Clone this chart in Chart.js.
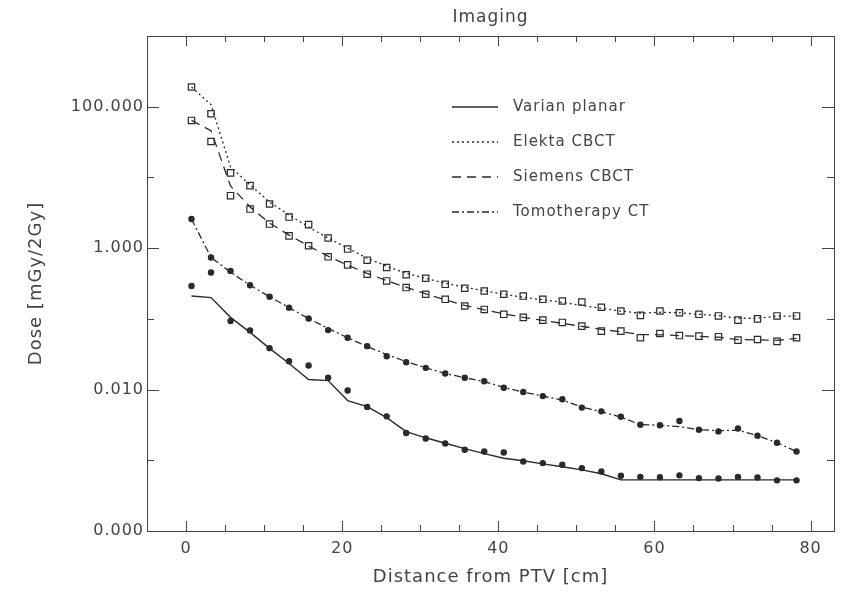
<!DOCTYPE html>
<html>
<head>
<meta charset="utf-8">
<title>Imaging</title>
<script src="https://cdn.jsdelivr.net/npm/chart.js@4.4.1/dist/chart.umd.min.js"></script>
<style>
  html, body { margin: 0; padding: 0; background: #fff; }
  canvas { display: block; }
</style>
</head>
<body>
<canvas id="chart" width="853" height="593"></canvas>
<script>
// distance from PTV [cm], shared by all series
const distances = [0.7, 3.2, 5.7, 8.2, 10.7, 13.2, 15.7, 18.2, 20.7, 23.2, 25.7, 28.2, 30.7, 33.2, 35.7, 38.2,
  40.7, 43.2, 45.7, 48.2, 50.7, 53.2, 55.7, 58.2, 60.7, 63.2, 65.7, 68.2, 70.7, 73.2, 75.7, 78.2];

// dose [mGy/2Gy] - lines (calculated) and markers (measured)
const varianLine = [0.210, 0.200, 0.105, 0.0644, 0.0382, 0.0234, 0.0139, 0.0134, 0.00698, 0.00574, 0.00401, 0.00254,
  0.00208, 0.00174, 0.00146, 0.00124, 0.00107, 0.000984, 0.000891, 0.000809, 0.000733, 0.000645,
  0.000528, 0.000528, 0.000528, 0.000528, 0.000528, 0.000528, 0.000528, 0.000528, 0.000528, 0.000528];
const varianPts = [0.292, 0.452, 0.0931, 0.0687, 0.0385, 0.0252, 0.0219, 0.0147, 0.00968, 0.00569, 0.00418, 0.00243,
  0.00203, 0.00173, 0.00141, 0.00133, 0.00129, 0.000962, 0.000912, 0.000863, 0.000775, 0.000694,
  0.000603, 0.000583, 0.000575, 0.000612, 0.00056, 0.000553, 0.00058, 0.000571, 0.00052, 0.00052];

const elektaLine = [190, 107, 14.1, 7.83, 4.49, 2.94, 1.99, 1.39, 1.0, 0.72, 0.556, 0.441, 0.375, 0.319, 0.28, 0.25,
  0.223, 0.202, 0.186, 0.171, 0.155, 0.141, 0.129, 0.12, 0.124, 0.122, 0.116, 0.111, 0.102, 0.102, 0.109, 0.110];
const elektaPts = [190, 79.6, 11.6, 7.65, 4.21, 2.75, 2.15, 1.39, 0.97, 0.676, 0.532, 0.42, 0.375, 0.308, 0.271, 0.248,
  0.223, 0.21, 0.189, 0.179, 0.173, 0.146, 0.129, 0.112, 0.129, 0.122, 0.116, 0.110, 0.096, 0.10, 0.110, 0.110];

const siemensLine = [64, 45.7, 7.57, 3.82, 2.26, 1.53, 1.07, 0.771, 0.574, 0.441, 0.346, 0.28, 0.226, 0.186, 0.155, 0.134,
  0.118, 0.105, 0.0953, 0.0863, 0.0784, 0.071, 0.0655, 0.0603, 0.0595, 0.058, 0.0565, 0.055, 0.051, 0.0505, 0.0495, 0.053];
const siemensPts = [64, 32.2, 5.52, 3.57, 2.19, 1.49, 1.08, 0.754, 0.58, 0.428, 0.344, 0.277, 0.223, 0.189, 0.152, 0.136,
  0.116, 0.105, 0.096, 0.089, 0.079, 0.067, 0.067, 0.054, 0.062, 0.058, 0.057, 0.056, 0.050, 0.051, 0.048, 0.054];

const tomoLine = [2.58, 0.738, 0.457, 0.298, 0.206, 0.144, 0.101, 0.0733, 0.0541, 0.0406, 0.0313, 0.0249, 0.0203, 0.0169,
  0.0147, 0.013, 0.0107, 0.00923, 0.00809, 0.00709, 0.00565, 0.00488, 0.00407, 0.00319, 0.00313, 0.00299,
  0.00271, 0.00262, 0.00267, 0.00223, 0.00177, 0.00133];
const tomoPts = [2.58, 0.738, 0.477, 0.298, 0.206, 0.144, 0.101, 0.0693, 0.0541, 0.0411, 0.0296, 0.0244, 0.0203, 0.0169,
  0.0147, 0.0131, 0.0106, 0.00923, 0.00809, 0.00728, 0.00556, 0.00492, 0.00414, 0.00319, 0.00313, 0.0036,
  0.00271, 0.00256, 0.00282, 0.00223, 0.00177, 0.00133];

const seriesNames = ['Varian planar', 'Elekta CBCT', 'Siemens CBCT', 'Tomotherapy CT'];

// axis ticks
const xTicks = [0, 5, 10, 15, 20, 25, 30, 35, 40, 45, 50, 55, 60, 65, 70, 75, 80];
const yTicks = [0.0001, 0.001, 0.01, 0.1, 1, 10, 100, 1000];

const ink = '#2a2a2a';
const textColor = '#444';
const fontFamily = '"DejaVu Sans", sans-serif';

const toXY = vals => vals.map((v, i) => ({ x: distances[i], y: v }));

function lineSet(label, vals, dash, width) {
  return {
    label: label, data: toXY(vals), showLine: true, pointRadius: 0,
    borderColor: ink, borderWidth: width, borderDash: dash, tension: 0
  };
}
function markerSet(vals, style, radius, fill) {
  return {
    label: '', data: toXY(vals), showLine: false, pointStyle: style, pointRadius: radius,
    pointBorderColor: ink, pointBackgroundColor: fill, pointBorderWidth: 1.2
  };
}

// letter spacing to get closer to the wide plot font of the original
const spacing = {
  id: 'spacing',
  beforeUpdate(chart) { chart.ctx.letterSpacing = '1px'; },
  beforeDraw(chart) { chart.ctx.letterSpacing = '1px'; }
};

// box frame with inward ticks on all four sides
const frameTicks = {
  id: 'frameTicks',
  afterDraw(chart) {
    const { ctx, chartArea: a, scales: { x, y } } = chart;
    ctx.save();
    ctx.strokeStyle = '#444';
    ctx.lineWidth = 1;
    ctx.strokeRect(Math.round(a.left) + 0.5, Math.round(a.top) + 0.5,
      Math.round(a.right - a.left), Math.round(a.bottom - a.top));
    ctx.beginPath();
    x.ticks.forEach(t => {
      const px = Math.round(x.getPixelForValue(t.value)) + 0.5;
      const len = t.label ? 10 : 6;
      ctx.moveTo(px, a.bottom); ctx.lineTo(px, a.bottom - len);
      ctx.moveTo(px, a.top); ctx.lineTo(px, a.top + len);
    });
    y.ticks.forEach(t => {
      const py = Math.round(y.getPixelForValue(t.value)) + 0.5;
      const len = t.label ? 12 : 7;
      ctx.moveTo(a.left, py); ctx.lineTo(a.left + len, py);
      ctx.moveTo(a.right, py); ctx.lineTo(a.right - len, py);
    });
    ctx.stroke();
    ctx.restore();
  }
};

// title centred over the plot box
const plotTitle = {
  id: 'plotTitle',
  afterDraw(chart) {
    const { ctx, chartArea: a } = chart;
    ctx.save();
    ctx.fillStyle = textColor;
    ctx.font = '17px ' + fontFamily;
    ctx.textAlign = 'center';
    ctx.textBaseline = 'middle';
    ctx.fillText('Imaging', (a.left + a.right) / 2, 18);
    ctx.restore();
  }
};

// legend inside the plot: line samples + names
const insideLegend = {
  id: 'insideLegend',
  afterDraw(chart) {
    const ctx = chart.ctx;
    ctx.save();
    ctx.font = '15px ' + fontFamily;
    ctx.fillStyle = textColor;
    ctx.textBaseline = 'middle';
    seriesNames.forEach((name, i) => {
      const ds = chart.data.datasets[i];
      const yy = 107 + i * 35;
      ctx.beginPath();
      ctx.strokeStyle = ds.borderColor;
      ctx.lineWidth = ds.borderWidth;
      ctx.setLineDash(ds.borderDash);
      ctx.moveTo(452, yy);
      ctx.lineTo(498, yy);
      ctx.stroke();
      ctx.setLineDash([]);
      ctx.fillText(name, 513, yy);
    });
    ctx.restore();
  }
};

const ctx = document.getElementById('chart').getContext('2d');
const chart = new Chart(ctx, {
  type: 'scatter',
  data: {
    datasets: [
      lineSet(seriesNames[0], varianLine, [], 1.4),
      lineSet(seriesNames[1], elektaLine, [2, 3], 1.3),
      lineSet(seriesNames[2], siemensLine, [9, 6], 1.3),
      lineSet(seriesNames[3], tomoLine, [7, 3, 2, 3], 1.3),
      markerSet(varianPts, 'circle', 2.6, ink),
      markerSet(elektaPts, 'rect', 4.5, 'rgba(255,255,255,0.6)'),
      markerSet(siemensPts, 'rect', 4.5, 'rgba(255,255,255,0.6)'),
      markerSet(tomoPts, 'circle', 2.6, ink)
    ]
  },
  options: {
    responsive: false,
    animation: false,
    layout: { padding: { left: 0, right: 19, top: 36, bottom: 0 } },
    plugins: {
      legend: { display: false },
      tooltip: { enabled: false },
      title: { display: false }
    },
    scales: {
      x: {
        type: 'linear', min: -5, max: 83,
        afterBuildTicks: s => { s.ticks = xTicks.map(v => ({ value: v })); },
        afterFit: s => { s.height = 62; },
        grid: { display: false, drawTicks: false },
        border: { display: false },
        ticks: {
          autoSkip: false, maxRotation: 0, padding: 8,
          color: textColor, font: { family: fontFamily, size: 16 },
          callback: v => (v % 20 === 0 ? String(v) : '')
        },
        title: {
          display: true, text: 'Distance from PTV [cm]', color: textColor,
          font: { family: fontFamily, size: 18 }, padding: { top: 0, bottom: 5 }
        }
      },
      y: {
        type: 'logarithmic', min: 0.0001, max: 1000,
        afterBuildTicks: s => { s.ticks = yTicks.map(v => ({ value: v })); },
        afterFit: s => { s.width = 147; },
        grid: { display: false, drawTicks: false },
        border: { display: false },
        ticks: {
          autoSkip: false, padding: 3,
          color: textColor, font: { family: fontFamily, size: 16 },
          callback: v => (Math.round(Math.log10(v)) % 2 === 0 ? v.toFixed(3) : '')
        },
        title: {
          display: true, text: 'Dose [mGy/2Gy]', color: textColor,
          font: { family: fontFamily, size: 18 }, padding: { top: 26, bottom: 0 }
        }
      }
    }
  },
  plugins: [spacing, frameTicks, plotTitle, insideLegend]
});
</script>
</body>
</html>
